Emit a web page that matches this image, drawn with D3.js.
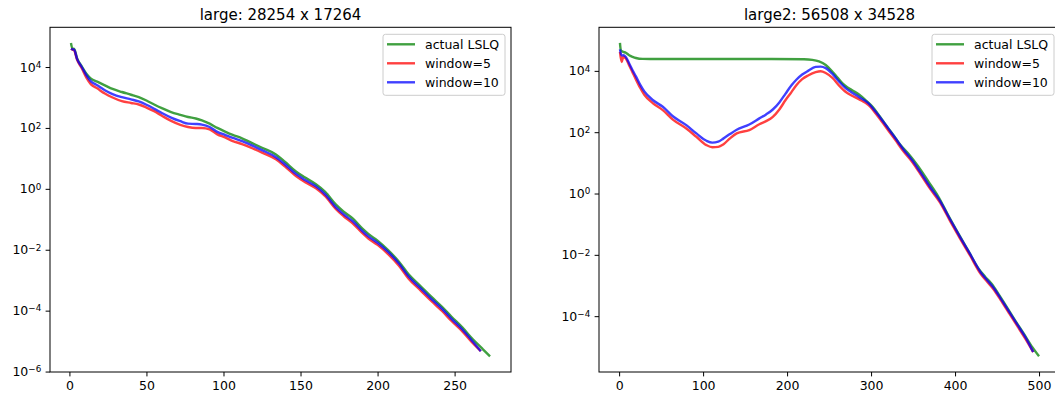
<!DOCTYPE html>
<html>
<head>
<meta charset="utf-8">
<script src="https://cdn.jsdelivr.net/npm/d3@7"></script>
<style>
body { margin: 0; background: #fff; }
text { font-family: "DejaVu Sans", sans-serif; fill: #000; }
</style>
</head>
<body>
<div id="chart-area"></div>
<script>
// DATA (residuals stored as log10 exponents)
var seriesNames = ["actual LSLQ", "window=5", "window=10"];
var seriesColors = ["#008000", "#ff0000", "#0000ff"];

// left panel: large
var leftTitle = "large: 28254 x 17264";
var leftIter = [1,2,3,5,8,11,14,18,23,28,34,40,45,50,55,60,66,72,77,82,86,91,96,101,106,112,117,125,134,140,147,153,160,166,173,178,184,190,194,200,207,214,220,228,235,242,248,255,262,268,273];
var leftLslq = [4.79,4.60,4.60,4.28,4.02,3.78,3.62,3.52,3.40,3.28,3.18,3.09,3.01,2.90,2.77,2.65,2.52,2.43,2.36,2.31,2.25,2.14,2.00,1.88,1.77,1.66,1.54,1.35,1.13,0.88,0.57,0.37,0.15,-0.10,-0.52,-0.75,-0.98,-1.30,-1.48,-1.70,-2.02,-2.40,-2.80,-3.20,-3.55,-3.88,-4.20,-4.55,-4.95,-5.25,-5.50];
var leftWinIter = [1,2,3,5,8,11,14,18,23,28,34,40,45,50,55,60,66,72,77,82,86,91,96,101,106,112,117,125,134,140,147,153,160,166,173,178,184,190,194,200,207,214,220,228,235,242,248,255,262,267];
var leftWin5 = [4.60,4.57,4.55,4.24,3.96,3.65,3.43,3.30,3.13,3.00,2.88,2.82,2.77,2.67,2.55,2.40,2.23,2.10,2.03,2.00,2.00,1.95,1.79,1.69,1.57,1.47,1.37,1.19,0.97,0.73,0.42,0.22,0.02,-0.24,-0.67,-0.90,-1.14,-1.45,-1.63,-1.84,-2.15,-2.53,-2.94,-3.34,-3.69,-4.02,-4.34,-4.68,-5.08,-5.33];
var leftWin10 = [4.60,4.58,4.57,4.26,4.00,3.73,3.53,3.40,3.24,3.11,3.01,2.94,2.87,2.76,2.63,2.49,2.34,2.22,2.14,2.13,2.11,2.03,1.87,1.77,1.67,1.57,1.46,1.27,1.04,0.80,0.49,0.29,0.08,-0.18,-0.61,-0.84,-1.07,-1.38,-1.56,-1.77,-2.08,-2.46,-2.87,-3.27,-3.62,-3.95,-4.27,-4.62,-5.03,-5.33];
var leftXTicks = [0, 50, 100, 150, 200, 250];
var leftYTicks = [-6, -4, -2, 0, 2, 4];

// right panel: large2
var rightTitle = "large2: 56508 x 34528";
var rightIter = [1,2,4,8,12,16,20,28,60,120,180,220,230,238,246,254,260,266,272,278,286,294,302,310,318,326,335,345,356,368,380,392,404,416,428,436,444,452,462,472,482,492,500];
var rightLslq = [4.91,4.68,4.63,4.59,4.51,4.46,4.42,4.39,4.385,4.385,4.385,4.38,4.36,4.31,4.19,3.97,3.78,3.59,3.46,3.36,3.22,3.03,2.82,2.53,2.22,1.93,1.58,1.28,0.89,0.40,-0.10,-0.72,-1.31,-1.88,-2.45,-2.72,-2.96,-3.29,-3.72,-4.16,-4.58,-5.01,-5.31];
var rightWinIter = [1,3,5,8,12,16,20,25,30,40,52,64,80,92,104,111,118,124,132,140,155,167,175,183,191,198,205,211,218,225,234,240,246,254,262,270,278,286,297,305,313,321,329,339,349,358,370,382,394,406,418,430,438,446,454,464,474,484,493];
var rightWin5 = [4.62,4.29,4.46,4.40,4.18,3.95,3.72,3.45,3.22,2.95,2.72,2.41,2.12,1.85,1.58,1.51,1.52,1.60,1.80,1.96,2.07,2.26,2.36,2.50,2.75,3.04,3.30,3.53,3.73,3.85,3.96,3.99,3.93,3.77,3.52,3.31,3.18,3.07,2.88,2.63,2.34,2.04,1.74,1.36,1.03,0.67,0.17,-0.29,-0.89,-1.47,-2.03,-2.60,-2.87,-3.13,-3.46,-3.89,-4.32,-4.75,-5.17];
var rightWin10 = [4.70,4.50,4.51,4.45,4.24,4.02,3.82,3.55,3.33,3.05,2.83,2.52,2.23,1.96,1.72,1.66,1.69,1.79,1.94,2.08,2.25,2.45,2.58,2.74,2.98,3.25,3.52,3.71,3.88,4.00,4.13,4.14,4.09,3.90,3.65,3.43,3.28,3.14,2.94,2.68,2.40,2.10,1.80,1.42,1.08,0.72,0.22,-0.24,-0.84,-1.42,-1.98,-2.55,-2.82,-3.08,-3.41,-3.84,-4.27,-4.70,-5.17];
var rightXTicks = [0, 100, 200, 300, 400, 500];
var rightYTicks = [-4, -2, 0, 2, 4];

// GRAPHIC'S SIZE
var W = 461, H = 344.7, TOP = 27.3;
var TICK = 4.4, FONT = 12.5;

// CREATE SVG
var svg = d3.select("#chart-area")
    .append("svg")
    .attr("width", 1055)
    .attr("height", 395);

drawPanel({
    left: 50, title: leftTitle, xTicks: leftXTicks, yTicks: leftYTicks,
    series: [
        { iter: leftIter, exp: leftLslq },
        { iter: leftWinIter, exp: leftWin5 },
        { iter: leftWinIter, exp: leftWin10 }
    ]
});

drawPanel({
    left: 599, title: rightTitle, xTicks: rightXTicks, yTicks: rightYTicks,
    series: [
        { iter: rightIter, exp: rightLslq },
        { iter: rightWinIter, exp: rightWin5 },
        { iter: rightWinIter, exp: rightWin10 }
    ]
});

function drawPanel(p) {
    var g = svg.append("g")
        .attr("transform", "translate(" + p.left + "," + TOP + ")");

    var data = p.series.map(s => s.iter.map((v, i) => ({ i: v, e: s.exp[i] })));
    var all = d3.merge(data);

    // autoscale with 5% margins, like matplotlib
    var xe = d3.extent(all, d => d.i);
    var xp = (xe[1] - xe[0]) * 0.05;
    var ye = d3.extent(all, d => d.e);
    var yp = (ye[1] - ye[0]) * 0.05;

    var x = d3.scaleLinear().domain([xe[0] - xp, xe[1] + xp]).range([0, W]);
    var y = d3.scaleLog().domain([10 ** (ye[0] - yp), 10 ** (ye[1] + yp)]).range([H, 0]);

    // Lines
    var line = d3.line()
        .x(d => x(d.i))
        .y(d => y(10 ** d.e))
        .curve(d3.curveMonotoneX);

    data.forEach((d, k) => {
        g.append("path")
            .datum(d)
            .attr("fill", "none")
            .attr("stroke", seriesColors[k])
            .attr("stroke-opacity", 0.75)
            .attr("stroke-width", 2.4)
            .attr("stroke-linejoin", "round")
            .attr("d", line);
    });

    // Axes
    var xAxisCall = d3.axisBottom(x)
        .tickValues(p.xTicks)
        .tickSize(TICK)
        .tickSizeOuter(0)
        .tickPadding(4.4);
    var xAxisGroup = g.append("g")
        .attr("transform", "translate(0," + H + ")")
        .call(xAxisCall);

    var yAxisCall = d3.axisLeft(y)
        .tickValues(p.yTicks.map(e => 10 ** e))
        .tickSize(TICK)
        .tickSizeOuter(0)
        .tickPadding(4.4)
        .tickFormat("");
    var yAxisGroup = g.append("g").call(yAxisCall);

    [xAxisGroup, yAxisGroup].forEach(a => {
        a.select(".domain").remove();
        a.selectAll(".tick line").attr("stroke", "#000");
        a.selectAll("text")
            .style("font-family", "DejaVu Sans")
            .style("font-size", FONT + "px")
            .attr("fill", "#000");
    });

    // 10^n labels
    yAxisGroup.selectAll(".tick text").each(function(d) {
        var t = d3.select(this);
        var e = Math.round(Math.log10(d));
        t.append("tspan").text("10");
        t.append("tspan")
            .attr("dy", "-0.42em")
            .style("font-size", (FONT * 0.7) + "px")
            .text(e < 0 ? "\u2212" + (-e) : e);
    });

    // Frame
    g.append("rect")
        .attr("x", 0).attr("y", 0)
        .attr("width", W).attr("height", H)
        .attr("fill", "none")
        .attr("stroke", "#000")
        .attr("stroke-width", 1);

    // Title
    g.append("text")
        .attr("x", W / 2)
        .attr("y", -7.5)
        .attr("text-anchor", "middle")
        .attr("font-size", "15px")
        .text(p.title);

    // Legend
    var lw = 122, lh = 61;
    var legend = g.append("g")
        .attr("transform", "translate(" + (W - 6 - lw) + ",7)");
    legend.append("rect")
        .attr("width", lw).attr("height", lh)
        .attr("rx", 2.5)
        .attr("fill", "#fff").attr("fill-opacity", 0.8)
        .attr("stroke", "#cccccc");
    seriesNames.forEach((name, k) => {
        var yy = 10 + k * 19;
        legend.append("line")
            .attr("x1", 4).attr("x2", 32)
            .attr("y1", yy).attr("y2", yy)
            .attr("stroke", seriesColors[k])
            .attr("stroke-opacity", 0.75)
            .attr("stroke-width", 2.4);
        legend.append("text")
            .attr("x", 42)
            .attr("y", yy + 4.5)
            .attr("font-size", FONT + "px")
            .text(name);
    });
}
</script>
</body>
</html>
